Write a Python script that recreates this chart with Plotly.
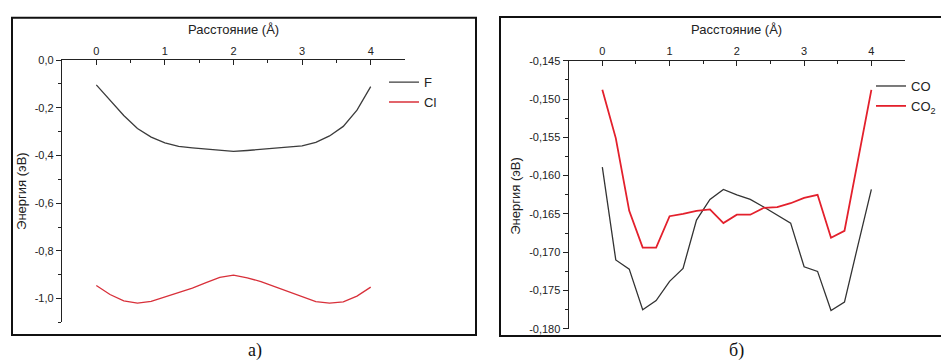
import plotly.graph_objects as go

# ---------------- data ----------------
dist_a = [0.0, 0.2, 0.4, 0.6, 0.8, 1.0, 1.2, 1.4, 1.6, 1.8, 2.0,
          2.2, 2.4, 2.6, 2.8, 3.0, 3.2, 3.4, 3.6, 3.8, 4.0]
energy_F = [-0.104, -0.169, -0.232, -0.287, -0.323, -0.347, -0.362, -0.368, -0.372, -0.377, -0.383,
            -0.379, -0.375, -0.371, -0.366, -0.360, -0.345, -0.318, -0.278, -0.210, -0.111]
energy_Cl = [-0.945, -0.983, -1.010, -1.019, -1.012, -0.994, -0.976, -0.956, -0.933, -0.911, -0.902,
             -0.913, -0.929, -0.950, -0.973, -0.994, -1.013, -1.019, -1.014, -0.990, -0.952]

dist_b = [0.0, 0.2, 0.4, 0.6, 0.8, 1.0, 1.2, 1.4, 1.6, 1.8, 2.0,
          2.2, 2.4, 2.6, 2.8, 3.0, 3.2, 3.4, 3.6, 3.8, 4.0]
energy_CO = [-0.1589, -0.1710, -0.1722, -0.1775, -0.1763, -0.1738, -0.1721, -0.1658, -0.1631, -0.1618, -0.1625,
             -0.1631, -0.1641, -0.1652, -0.1662, -0.1719, -0.1725, -0.1776, -0.1765, -0.1691, -0.1618]
energy_CO2 = [-0.1488, -0.1551, -0.1646, -0.1694, -0.1694, -0.1653, -0.1650, -0.1646, -0.1644, -0.1662, -0.1651,
              -0.1651, -0.1642, -0.1641, -0.1636, -0.1629, -0.1625, -0.1681, -0.1672, -0.1580, -0.1488]

x_tickvals = [0, 1, 2, 3, 4]
x_ticktext = ["0", "1", "2", "3", "4"]
x_minorvals = [-0.5, 0.5, 1.5, 2.5, 3.5, 4.5]

ya_tickvals = [0.0, -0.2, -0.4, -0.6, -0.8, -1.0]
ya_ticktext = ["0,0", "-0,2", "-0,4", "-0,6", "-0,8", "-1,0"]
ya_minorvals = [-0.1, -0.3, -0.5, -0.7, -0.9, -1.1]

yb_tickvals = [-0.145, -0.150, -0.155, -0.160, -0.165, -0.170, -0.175, -0.180]
yb_ticktext = ["-0,145", "-0,150", "-0,155", "-0,160", "-0,165", "-0,170", "-0,175", "-0,180"]
yb_minorvals = [-0.1475, -0.1525, -0.1575, -0.1625, -0.1675, -0.1725, -0.1775]

x_title = "Расстояние (Å)"
y_title = "Энергия (эВ)"

# ---------------- layout helpers ----------------
W, H = 949, 361
FONT = "Liberation Sans, Arial, sans-serif"
AX = "#222222"


def fx(p):
    return p / W


def fy(p):
    return 1 - p / H


fig = go.Figure()

fig.add_trace(go.Scatter(x=dist_a, y=energy_F, mode="lines", name="F",
                         line=dict(color="#3c3c3c", width=1.3), xaxis="x", yaxis="y", legend="legend"))
fig.add_trace(go.Scatter(x=dist_a, y=energy_Cl, mode="lines", name="Cl",
                         line=dict(color="#d8303a", width=1.3), xaxis="x", yaxis="y", legend="legend"))
fig.add_trace(go.Scatter(x=dist_b, y=energy_CO, mode="lines", name="CO",
                         line=dict(color="#333333", width=1.3), xaxis="x2", yaxis="y2", legend="legend2"))
fig.add_trace(go.Scatter(x=dist_b, y=energy_CO2, mode="lines", name="CO<sub>2</sub>",
                         line=dict(color="#e3202c", width=1.8), xaxis="x2", yaxis="y2", legend="legend2"))

tickfont = dict(family=FONT, size=11, color=AX)


def xax(domain, anchor):
    return dict(domain=domain, anchor=anchor, side="top", range=[-0.5, 4.5],
                showline=True, linecolor=AX, linewidth=1.3, showgrid=False, zeroline=False,
                tickmode="array", tickvals=x_tickvals, ticktext=x_ticktext,
                ticks="inside", ticklen=5, tickwidth=1.2, tickcolor=AX, tickfont=tickfont,
                minor=dict(tickmode="array", tickvals=x_minorvals, ticks="inside",
                           ticklen=3, tickwidth=1.1, tickcolor=AX, showgrid=False))


def yax(domain, anchor, rng, tv, tt, mv):
    return dict(domain=domain, anchor=anchor, range=rng,
                showline=True, linecolor=AX, linewidth=1.3, showgrid=False, zeroline=False,
                tickmode="array", tickvals=tv, ticktext=tt,
                ticks="outside", ticklen=5, tickwidth=1.2, tickcolor=AX, tickfont=tickfont,
                minor=dict(tickmode="array", tickvals=mv, ticks="outside",
                           ticklen=3, tickwidth=1.1, tickcolor=AX, showgrid=False))


fig.update_layout(
    width=W, height=H,
    margin=dict(l=0, r=0, t=0, b=0),
    paper_bgcolor="white", plot_bgcolor="white",
    font=dict(family=FONT, size=13, color=AX),
    xaxis=xax([fx(54), fx(397)], "y"),
    yaxis=yax([fy(319), fy(47.7)], "x", [-1.1, 0.0], ya_tickvals, ya_ticktext, ya_minorvals),
    xaxis2=xax([fx(560.7), fx(897)], "y2"),
    yaxis2=yax([fy(325.7), fy(48.3)], "x2", [-0.180, -0.145], yb_tickvals, yb_ticktext, yb_minorvals),
    legend=dict(x=fx(376), y=fy(55), xanchor="left", yanchor="top",
                bgcolor="rgba(0,0,0,0)", font=dict(family=FONT, size=13, color=AX),
                tracegroupgap=0),
    legend2=dict(x=fx(863), y=fy(59), xanchor="left", yanchor="top",
                 bgcolor="rgba(0,0,0,0)", font=dict(family=FONT, size=13, color=AX),
                 tracegroupgap=0),
    showlegend=True,
)

# panel frames
fig.add_shape(type="rect", xref="paper", yref="paper",
              x0=fx(4), x1=fx(468), y0=fy(332), y1=fy(4),
              line=dict(color="#111111", width=2), fillcolor="rgba(0,0,0,0)", layer="below")
fig.add_shape(type="rect", xref="paper", yref="paper",
              x0=fx(492), x1=fx(947), y0=fy(333), y1=fy(3),
              line=dict(color="#111111", width=2), fillcolor="rgba(0,0,0,0)", layer="below")

ann = [
    dict(text=x_title, x=fx(225), y=fy(15.7), font=dict(family=FONT, size=13, color=AX)),
    dict(text=x_title, x=fx(728), y=fy(15.7), font=dict(family=FONT, size=13, color=AX)),
    dict(text=y_title, x=fx(14), y=fy(183), textangle=-90, font=dict(family=FONT, size=13, color=AX)),
    dict(text=y_title, x=fx(508), y=fy(188), textangle=-90, font=dict(family=FONT, size=13, color=AX)),
    dict(text="а)", x=fx(247), y=fy(348), font=dict(family="Liberation Serif, Times New Roman, serif", size=18, color="#111")),
    dict(text="б)", x=fx(728), y=fy(348), font=dict(family="Liberation Serif, Times New Roman, serif", size=18, color="#111")),
]
for a in ann:
    fig.add_annotation(xref="paper", yref="paper", xanchor="center", yanchor="middle",
                       showarrow=False, **a)

fig.write_html("out.html")
